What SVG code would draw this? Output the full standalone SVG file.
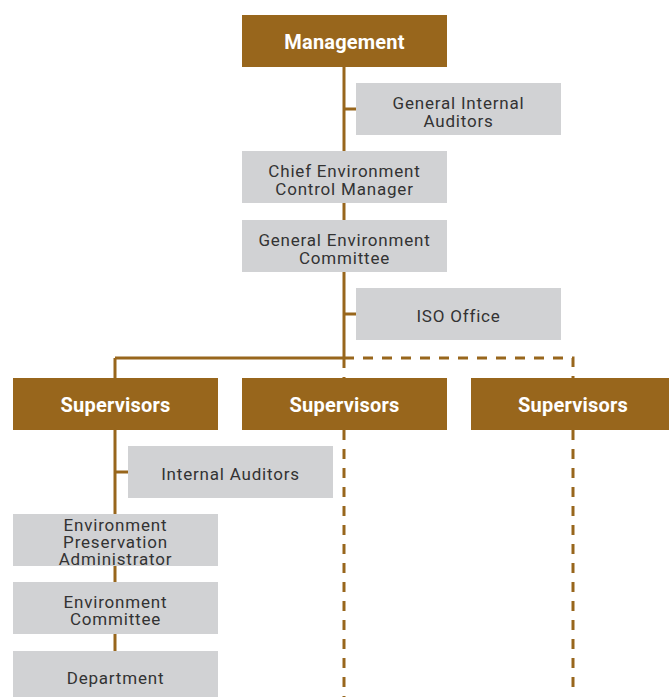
<svg xmlns="http://www.w3.org/2000/svg" width="669" height="697" viewBox="0 0 669 697">
<style>
.b{fill:#98661c}
.g{fill:#d1d2d4}
.tb{font-family:Roboto,"Liberation Sans",sans-serif;font-weight:bold;font-size:20px;letter-spacing:0.2px;fill:#ffffff;text-anchor:middle}
.tg{font-family:Roboto,"Liberation Sans",sans-serif;font-size:17px;letter-spacing:0.8px;fill:#333333;text-anchor:middle}
.s{stroke:#98661c;stroke-width:3;fill:none}
.d{stroke:#98661c;stroke-width:3;fill:none;stroke-dasharray:10 9}
</style>
<rect width="669" height="697" fill="#ffffff"/>
<g id="connectors">
<path class="s" d="M344 67V358M344 109H356M344 314H356M115 358H344M115 358V378M115 430V651M115 472H128"/>
<path class="d" d="M344 358H573V378M344 358V378M344 430V697M573 430V690"/>
</g>
<g id="management"><rect class="b" x="242" y="15" width="205" height="52"/><text class="tb" x="344.5" y="49">Management</text></g>
<g id="general-internal-auditors"><rect class="g" x="356" y="83" width="205" height="52"/><text class="tg" x="458.5" y="109">General Internal</text><text class="tg" x="458.5" y="126.5">Auditors</text></g>
<g id="chief-environment-control-manager"><rect class="g" x="242" y="151" width="205" height="52"/><text class="tg" x="344.5" y="177">Chief Environment</text><text class="tg" x="344.5" y="194.5">Control Manager</text></g>
<g id="general-environment-committee"><rect class="g" x="242" y="220" width="205" height="52"/><text class="tg" x="344.5" y="246">General Environment</text><text class="tg" x="344.5" y="263.5">Committee</text></g>
<g id="iso-office"><rect class="g" x="356" y="288" width="205" height="52"/><text class="tg" x="458.5" y="322">ISO Office</text></g>
<g id="supervisors-1"><rect class="b" x="13" y="378" width="205" height="52"/><text class="tb" x="115.5" y="412">Supervisors</text></g>
<g id="supervisors-2"><rect class="b" x="242" y="378" width="205" height="52"/><text class="tb" x="344.5" y="412">Supervisors</text></g>
<g id="supervisors-3"><rect class="b" x="471" y="378" width="198" height="52"/><text class="tb" x="573" y="412">Supervisors</text></g>
<g id="internal-auditors"><rect class="g" x="128" y="446" width="205" height="52"/><text class="tg" x="230.5" y="480">Internal Auditors</text></g>
<g id="environment-preservation-administrator"><rect class="g" x="13" y="514" width="205" height="52"/><text class="tg" x="115.5" y="531">Environment</text><text class="tg" x="115.5" y="548">Preservation</text><text class="tg" x="115.5" y="564.5">Administrator</text></g>
<g id="environment-committee"><rect class="g" x="13" y="582" width="205" height="52"/><text class="tg" x="115.5" y="608">Environment</text><text class="tg" x="115.5" y="625">Committee</text></g>
<g id="department"><rect class="g" x="13" y="651" width="205" height="46"/><text class="tg" x="115.5" y="684">Department</text></g>
</svg>
